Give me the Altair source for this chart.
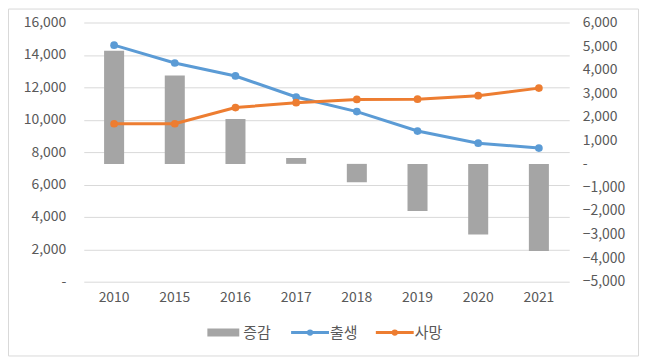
import altair as alt
import pandas as pd

years = ["2010", "2015", "2016", "2017", "2018", "2019", "2020", "2021"]
births = [14600, 13500, 12700, 11400, 10500, 9300, 8550, 8250]
deaths = [9750, 9750, 10750, 11050, 11250, 11270, 11480, 11950]
change = [4800, 3750, 1900, 250, -780, -2000, -3000, -3700]
series_names = ["증감", "출생", "사망"]
colors = ["#a5a5a5", "#5b9bd5", "#ed7d31"]

FONT = "Noto Sans CJK KR"
TXT = "#595959"
LFS = 14

bar_df = pd.DataFrame({"year": years, "change": change})
line_df = pd.DataFrame({
    "year": years * 2,
    "value": births + deaths,
    "series": [series_names[1]] * len(years) + [series_names[2]] * len(years),
    "order": [0] * len(years) + [1] * len(years),
})

xenc = alt.X("year:N", sort=years,
             scale=alt.Scale(paddingInner=0.67, paddingOuter=0.335),
             axis=alt.Axis(title=None, labelAngle=0, domain=False, ticks=False,
                           labelPadding=9, labelFontSize=LFS, labelColor=TXT, labelFont=FONT))

bars = alt.Chart(bar_df).mark_bar(color=colors[0]).encode(
    x=xenc,
    y=alt.Y("change:Q", scale=alt.Scale(domain=[-5000, 6000], nice=False, zero=False),
            axis=alt.Axis(orient="right", title=None, values=list(range(-5000, 6001, 1000)),
                          labelExpr="datum.value == 0 ? '-' : format(datum.value, ',')",
                          grid=False, domain=False, ticks=False, labelPadding=13,
                          labelFontSize=LFS, labelColor=TXT, labelFont=FONT)),
    y2=alt.datum(0),
)

lines = alt.Chart(line_df).mark_line(strokeWidth=3, point=alt.OverlayMarkDef(filled=True, size=60, opacity=1)).encode(
    x=xenc,
    y=alt.Y("value:Q", scale=alt.Scale(domain=[0, 16000], nice=False),
            axis=alt.Axis(orient="left", title=None, values=list(range(0, 16001, 2000)),
                          labelExpr="datum.value == 0 ? '-' : format(datum.value, ',')",
                          grid=True, gridColor="#d9d9d9", domain=False, ticks=False,
                          labelPadding=18, labelFontSize=LFS, labelColor=TXT, labelFont=FONT)),
    color=alt.Color("series:N", scale=alt.Scale(domain=series_names[1:], range=colors[1:]), legend=None),
    order=alt.Order("order:Q"),
)

one = pd.DataFrame({"k": [0]})
border = alt.Chart(one).mark_rect(fillOpacity=0, stroke="#d9d9d9", strokeWidth=1).encode(
    x=alt.value(-75.5), x2=alt.value(556.5), y=alt.value(-13.5), y2=alt.value(334.5))

ly = 311
TFS = 15
leg_rect = alt.Chart(one).mark_rect(color=colors[0]).encode(
    x=alt.value(124), x2=alt.value(156), y=alt.value(ly - 4), y2=alt.value(ly + 4))
leg_t1 = alt.Chart(one).mark_text(align="left", baseline="middle", fontSize=TFS, color=TXT, font=FONT).encode(
    x=alt.value(160), y=alt.value(ly), text=alt.value(series_names[0]))
leg_l2 = alt.Chart(one).mark_rule(color=colors[1], strokeWidth=3).encode(
    x=alt.value(208), x2=alt.value(246), y=alt.value(ly))
leg_p2 = alt.Chart(one).mark_point(filled=True, size=40, opacity=1, color=colors[1]).encode(
    x=alt.value(227), y=alt.value(ly))
leg_t2 = alt.Chart(one).mark_text(align="left", baseline="middle", fontSize=TFS, color=TXT, font=FONT).encode(
    x=alt.value(247), y=alt.value(ly), text=alt.value(series_names[1]))
leg_l3 = alt.Chart(one).mark_rule(color=colors[2], strokeWidth=3).encode(
    x=alt.value(293), x2=alt.value(331), y=alt.value(ly))
leg_p3 = alt.Chart(one).mark_point(filled=True, size=40, opacity=1, color=colors[2]).encode(
    x=alt.value(312), y=alt.value(ly))
leg_t3 = alt.Chart(one).mark_text(align="left", baseline="middle", fontSize=TFS, color=TXT, font=FONT).encode(
    x=alt.value(332), y=alt.value(ly), text=alt.value(series_names[2]))

chart = alt.layer(
    bars, lines, border, leg_rect, leg_t1, leg_l2, leg_p2, leg_t2, leg_l3, leg_p3, leg_t3
).resolve_scale(y="independent").properties(
    width=487, height=260,
    padding={"left": 76, "top": 14, "right": 71, "bottom": 78},
    autosize=alt.AutoSizeParams(type="none"),
    background="white",
).configure_view(strokeWidth=0)

chart.save("out.html", embed_options={"renderer": "svg", "actions": False})
